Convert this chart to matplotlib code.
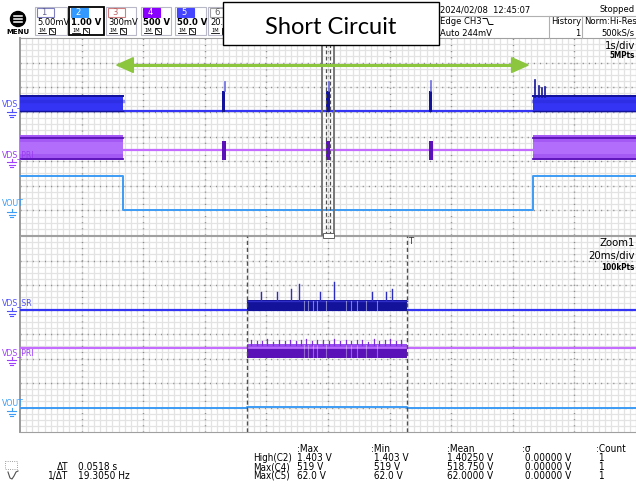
import matplotlib
matplotlib.use("Agg")
import matplotlib.pyplot as plt
from matplotlib import font_manager as fm
from matplotlib.patches import Rectangle, Polygon, Circle

# ---------------- data ----------------
# Main window: 1 s/div, time in seconds; vertical levels in divisions
main_xlim = [-5.0, 5.0]
sr_base_main = 1.03
sr_bands_main = [(-5.0, -3.33, 1.0, 1.68), (3.33, 5.0, 1.0, 1.68)]   # t0, t1, low, high
sr_spike_t_main = [-1.69, 0.0, 1.67]
sr_spike_mid_main = [1.85, 1.85, 1.85]
sr_spike_top_main = [2.21, 2.20, 2.25]
sr_start_spike_t = [3.36, 3.42, 3.48, 3.53]
sr_start_spike_top = [2.29, 2.05, 1.98, 2.02]

pri_base_main = -0.55
pri_bands_main = [(-5.0, -3.33, -0.96, 0.06), (3.33, 5.0, -0.96, 0.06)]
pri_burst_t_main = [-1.69, 0.0, 1.67]
pri_burst_low_main = [-0.96, -0.96, -0.96]
pri_burst_high_main = [-0.19, -0.19, -0.19]

vout_t_main = [-5.0, -3.33, -3.33, 3.33, 3.33, 5.0]
vout_v_main = [-1.61, -1.61, -2.99, -2.99, -1.61, -1.61]

zoom_window = [-0.1, 0.1]              # 20 ms/div zoom window, seconds
cursor_t = [-0.0263, 0.0255]           # dT = 0.0518 s
arrow_t = [-3.43, 3.25]
arrow_level = 2.9

# Zoom window: 20 ms/div
sr_base_zoom = 0.98
sr_band_zoom = (-0.0263, 0.0255, 0.98, 1.39)
sr_spike_t_zoom = [-0.0218, -0.0164, -0.0120, -0.0094, -0.0026, 0.0018, 0.0144, 0.0188, 0.0208]
sr_spike_top_zoom = [1.73, 1.73, 1.82, 2.03, 1.73, 2.13, 1.71, 1.71, 1.84]

pri_base_zoom = -0.57
pri_band_zoom = (-0.0263, 0.0255, -0.98, -0.57, -0.40)   # t0, t1, low, mid, high
pri_spike_t_zoom = [-0.0250, -0.0232, -0.0215, -0.0198, -0.0180, -0.0160, -0.0141, -0.0124,
                    -0.0105, -0.0088, -0.0070, -0.0052, -0.0035, -0.0015, 0.0003, 0.0021,
                    0.0040, 0.0058, 0.0075, 0.0093, 0.0112, 0.0130, 0.0148, 0.0166,
                    0.0184, 0.0202, 0.0220, 0.0238]
pri_spike_top_zoom = [-0.24, -0.30, -0.27, -0.22, -0.31, -0.26, -0.28, -0.23, -0.30, -0.25,
                      -0.21, -0.29, -0.26, -0.24, -0.30, -0.22, -0.27, -0.25, -0.29, -0.23,
                      -0.26, -0.31, -0.22, -0.28, -0.24, -0.20, -0.27, -0.25]
gap_t_zoom = [-0.0078, -0.0065, -0.0049, -0.0036, -0.0006, 0.0058, 0.0075, 0.0094, 0.0123, 0.0159]

vout_t_zoom = [-0.1, -0.0263, -0.0263, 0.0255, 0.0255, 0.1]
vout_v_zoom = [-3.03, -3.03, -2.99, -2.99, -3.03, -3.03]

channel_numbers = ["1", "2", "3", "4", "5", "6"]
channel_scales = ["5.00mV", "1.00 V", "300mV", "500 V", "50.0 V", "20."]

meas_headers = [":Max", ":Min", ":Mean", ":\u03c3", ":Count"]
meas_rows = ["High(C2)", "Max(C4)", "Max(C5)"]
meas_values = [["1.403 V", " 1.403 V", "1.40250 V", " 0.00000 V", " 1"],
               ["519 V", " 519 V", "518.750 V", " 0.00000 V", " 1"],
               ["62.0 V", " 62.0 V", "62.0000 V", " 0.00000 V", " 1"]]

# ---------------- fonts ----------------
_fonts = fm.fontManager.ttflist
_names = {f.name for f in _fonts}
if "Liberation Sans Narrow" in _names:
    SFAM, SSTR, SSC = ["Liberation Sans Narrow", "DejaVu Sans"], "normal", 1.0
elif any(f.name == "DejaVu Sans" and f.stretch == "condensed" for f in _fonts):
    SFAM, SSTR, SSC = ["DejaVu Sans"], "condensed", 0.9
else:
    SFAM, SSTR, SSC = ["DejaVu Sans Mono"], "normal", 0.82


def sfont(size, bold=False):
    return dict(family=SFAM, fontstretch=SSTR, fontsize=size * SSC,
                fontweight="bold" if bold else "normal")


# ---------------- styling ----------------
C_SR = "#3434f4"
C_SR_DARK = "#12129a"
C_PRI = "#c46cff"
C_PRI_BAND = "#a458f4"
C_PRI_DARK = "#5a12b8"
C_VOUT = "#3d9cf5"
C_GREEN = "#8cc63f"

W, H = 636, 487
fig = plt.figure(figsize=(W / 100, H / 100), dpi=100)
fig.patch.set_facecolor("white")


def fax(x0, y0, x1, y1):
    return [x0 / W, 1 - y1 / H, (x1 - x0) / W, (y1 - y0) / H]


ax_top = fig.add_axes(fax(20, 38, 636, 235))
ax_zoom = fig.add_axes(fax(20, 236, 636, 432))
ov = fig.add_axes([0, 0, 1, 1], zorder=10)
ov.set_xlim(0, W)
ov.set_ylim(H, 0)
ov.axis("off")
ov.patch.set_visible(False)


def setup_grid(ax, xlim):
    ax.set_xlim(*xlim)
    ax.set_ylim(-4, 4)
    div = (xlim[1] - xlim[0]) / 10.0
    for k in range(1, 100):
        ax.axvline(xlim[0] + k * div / 10, color="#e3e3e3", lw=0.9, zorder=0)
    for k in range(1, 32):
        ax.axhline(-4 + k * 0.25, color="#e3e3e3", lw=0.9, zorder=0)
    for k in range(1, 10):
        ax.axvline(xlim[0] + k * div, color="#8c8c8c", lw=1.0, ls=(0, (0.8, 3.6)), zorder=0.5)
    for k in range(1, 8):
        ax.axhline(-4 + k, color="#8c8c8c", lw=1.0, ls=(0, (0.8, 3.6)), zorder=0.5)
    ax.set_xticks([])
    ax.set_yticks([])
    for s in ax.spines.values():
        s.set_color("#a0a0a0")
        s.set_linewidth(0.8)
    ax.spines["left"].set_color("#9a9a9a")
    ax.spines["left"].set_linewidth(1.4)
    ax.set_facecolor("white")


setup_grid(ax_top, main_xlim)
setup_grid(ax_zoom, zoom_window)

# ---------------- main window traces ----------------
ax = ax_top
# channel labels drawn behind the traces (the bands cover part of them)
ax.text(2, 104, "VDS_SR", color="#5050ff", va="center", transform=ov.transData, clip_on=False,
        zorder=3.5, **sfont(7))
ax.text(2, 155, "VDS_PRI", color="#9a3cf0", va="center", transform=ov.transData, clip_on=False,
        zorder=4.6, **sfont(7))
ax.plot(main_xlim, [sr_base_main] * 2, color=C_SR, lw=1.6, zorder=3)
for t0, t1, lo, hi in sr_bands_main:
    ax.fill_between([t0, t1], lo, hi, color=C_SR, zorder=4, lw=0)
    ax.plot([t0, t1], [hi - 0.05] * 2, color=C_SR_DARK, lw=1.4, zorder=5)
    ax.plot([t0, t1], [lo + 0.04] * 2, color=C_SR_DARK, lw=1.0, zorder=5)
    ax.plot([t0, t1], [(lo + hi) / 2 + 0.1] * 2, color="#2a2ad8", lw=2.5, zorder=5, alpha=0.5)
for t, m, top in zip(sr_spike_t_main, sr_spike_mid_main, sr_spike_top_main):
    ax.fill_between([t - 0.025, t + 0.025], sr_base_main - 0.05, m, color=C_SR_DARK, zorder=5, lw=0)
    ax.plot([t + 0.01, t + 0.01], [m, top], color="#6a6ae0", lw=1.2, zorder=5)
for t, top in zip(sr_start_spike_t, sr_start_spike_top):
    ax.plot([t, t], [1.6, top], color=C_SR_DARK, lw=1.2, zorder=5)

ax.plot(main_xlim, [pri_base_main] * 2, color=C_PRI, lw=1.6, zorder=3)
for t0, t1, lo, hi in pri_bands_main:
    ax.fill_between([t0, t1], lo, hi, color=C_PRI_BAND, zorder=4, lw=0)
    ax.fill_between([t0, t1], lo + 0.25, hi - 0.3, color="#b878ff", zorder=4, lw=0, alpha=0.7)
    ax.plot([t0, t1], [hi - 0.12] * 2, color=C_PRI_DARK, lw=1.3, zorder=4.5)
    ax.plot([t0, t1], [lo + 0.06] * 2, color=C_PRI_DARK, lw=1.3, zorder=4.5)
for t, lo, hi in zip(pri_burst_t_main, pri_burst_low_main, pri_burst_high_main):
    ax.fill_between([t - 0.03, t + 0.03], lo, hi, color=C_PRI_DARK, zorder=5, lw=0)

ax.plot(vout_t_main, vout_v_main, color=C_VOUT, lw=1.4, zorder=3)

# zoom window indicator and cursors
ax.add_patch(Rectangle((zoom_window[0], -4), zoom_window[1] - zoom_window[0], 8,
                       fill=False, ec="#707070", lw=1.3, zorder=6, clip_on=False))
for c in cursor_t:
    ax.axvline(c, color="#505050", lw=0.9, ls=(0, (3, 2)), zorder=6)

# green arrow
ax.plot([arrow_t[0] + 0.25, arrow_t[1] - 0.25], [arrow_level] * 2, color=C_GREEN, lw=2.2, zorder=7)
ax.add_patch(Polygon([[arrow_t[0], arrow_level], [arrow_t[0] + 0.27, arrow_level + 0.3],
                      [arrow_t[0] + 0.27, arrow_level - 0.3]], closed=True, color=C_GREEN, zorder=7))
ax.add_patch(Polygon([[arrow_t[1], arrow_level], [arrow_t[1] - 0.27, arrow_level + 0.3],
                      [arrow_t[1] - 0.27, arrow_level - 0.3]], closed=True, color=C_GREEN, zorder=7))

# ---------------- zoom window traces ----------------
ax = ax_zoom
t0, t1, lo, hi = sr_band_zoom
ax.plot(zoom_window, [sr_base_zoom] * 2, color=C_SR, lw=1.6, zorder=3)
ax.fill_between([t0, t1], lo - 0.03, hi, color=C_SR_DARK, zorder=4, lw=0)
ax.plot([t0, t1], [hi - 0.03] * 2, color="#3030c8", lw=1.0, zorder=5)
for t, top in zip(sr_spike_t_zoom, sr_spike_top_zoom):
    ax.plot([t, t], [hi, top], color="#2c2cc0", lw=1.0, zorder=5)

t0, t1, lo, mid, hi = pri_band_zoom
ax.plot(zoom_window, [pri_base_zoom] * 2, color=C_PRI, lw=1.6, zorder=3)
ax.fill_between([t0, t1], mid, hi, color="#9a4cf0", zorder=4, lw=0)
ax.fill_between([t0, t1], lo, mid, color=C_PRI_DARK, zorder=4, lw=0)
ax.plot([t0, t1], [mid] * 2, color="#c070ff", lw=1.2, zorder=5)
for t, top in zip(pri_spike_t_zoom, pri_spike_top_zoom):
    ax.plot([t, t], [hi - 0.05, top], color="#7a30d8", lw=0.9, zorder=5)
for t in gap_t_zoom:
    ax.plot([t, t], [sr_band_zoom[2], sr_band_zoom[3] - 0.05], color="#ffffff", lw=0.8, alpha=0.45, zorder=6)
    ax.plot([t, t], [lo, hi - 0.05], color="#ffffff", lw=0.8, alpha=0.35, zorder=6)

ax.plot(vout_t_zoom, vout_v_zoom, color=C_VOUT, lw=1.4, zorder=3)
for c in cursor_t:
    ax.axvline(c, color="#505050", lw=1.0, ls=(0, (3, 2)), zorder=7)


# ---------------- overlay: labels, header, measurement table ----------------
def ground(x, y, color):
    ov.plot([x + 4.5, x + 4.5], [y - 3, y], color=color, lw=0.8)
    ov.plot([x, x + 9], [y, y], color=color, lw=0.8)
    ov.plot([x + 1.5, x + 7.5], [y + 2.5, y + 2.5], color=color, lw=0.8)
    ov.plot([x + 3, x + 6], [y + 5, y + 5], color=color, lw=0.8)


def lbl(x, y, s, color):
    ov.text(x, y, s, color=color, va="center", **sfont(7))


ground(7, 112, "#5050ff")
ground(7, 162, "#a040ff")
lbl(2, 204, "VOUT", "#3d9cf5")
ground(7, 212, "#3d9cf5")
lbl(2, 303, "VDS_SR", "#5050ff")
ground(7, 311, "#5050ff")
lbl(2, 353, "VDS_PRI", "#a040ff")
ground(7, 360, "#a040ff")
lbl(2, 403, "VOUT", "#3d9cf5")
ground(7, 411, "#3d9cf5")

# header: menu button
ov.add_patch(Circle((18, 19), 7.5, color="black"))
for dy in (-3, 0, 3):
    ov.plot([14, 22], [19 + dy, 19 + dy], color="white", lw=1.1)
ov.text(18, 32, "MENU", fontsize=5, fontweight="bold", ha="center", va="center")

box_x = [35, 69, 106, 141, 175, 208]
box_w = [32, 35, 30, 30, 31, 32]
tab_fill = ["white", "#3399ff", "white", "#8a00ff", "#4646ff", "white"]
tab_edge = ["#8080c0", "#3399ff", "#d08080", "#8a00ff", "#4646ff", "#a0a0a0"]
tab_text = ["#606090", "white", "#c06060", "white", "white", "#606060"]
for i, (x0, w) in enumerate(zip(box_x, box_w)):
    sel = i == 1
    ov.add_patch(Rectangle((x0, 7), w, 28, fill=False, ec="black" if sel else "#b8b8c8",
                           lw=1.3 if sel else 0.8))
    ov.add_patch(Rectangle((x0 + 2, 8), 17, 9, fc=tab_fill[i], ec=tab_edge[i], lw=0.8))
    ov.text(x0 + 9, 12.5, channel_numbers[i], color=tab_text[i], ha="center", va="center", **sfont(7.5))
    ov.text(x0 + 2, 22.5, channel_scales[i], ha="left", va="center", **sfont(7.5, bold=i in (1, 3, 4)))
    ov.text(x0 + 3, 30, "1M", ha="left", va="center", **sfont(4.5))
    ov.plot([x0 + 3, x0 + 11], [33, 33], color="black", lw=0.6)
    ov.add_patch(Rectangle((x0 + 14, 27.5), 6, 6, fill=False, ec="black", lw=0.6))
    ov.plot([x0 + 15, x0 + 19], [28.5, 32.5], color="black", lw=0.6)

# header right
ov.text(440, 10, "2024/02/08  12:45:07", va="center", **sfont(7.5))
ov.text(635, 10, "Stopped", va="center", ha="right", **sfont(7.5))
ov.plot([438, 636], [15.5, 15.5], color="#b0b0b0", lw=0.8)
ov.plot([549, 549], [15.5, 38], color="#b0b0b0", lw=0.8)
ov.plot([582, 582], [15.5, 38], color="#b0b0b0", lw=0.8)
ov.text(440, 21.7, "Edge CH3", va="center", **sfont(7.5))
ov.plot([483, 487, 489, 493], [18.5, 18.5, 24.5, 24.5], color="black", lw=0.7)
ov.text(440, 33, "Auto 244mV", va="center", **sfont(7.5))
ov.text(551, 21.7, "History", va="center", **sfont(7.5))
ov.text(580, 33, "1", va="center", ha="right", **sfont(7.5))
ov.text(584, 21.7, "Norm:Hi-Res", va="center", **sfont(7.5))
ov.text(635, 33, "500kS/s", va="center", ha="right", **sfont(7.5))

# Short Circuit annotation box
ov.add_patch(Rectangle((223, 2), 216, 43, fc="white", ec="black", lw=1.0, zorder=20))
ov.text(331, 27, "Short Circuit", fontsize=17, family=["Lato", "DejaVu Sans"], ha="center",
        va="center", zorder=21)

# timebase texts
ov.text(635, 46, "1s/div", ha="right", va="center", **sfont(9))
ov.text(635, 55.5, "5MPts", ha="right", va="center", **sfont(6.5, bold=True))
ov.text(635, 243, "Zoom1", ha="right", va="center", **sfont(9))
ov.text(635, 255.5, "20ms/div", ha="right", va="center", **sfont(9))
ov.text(635, 267, "100kPts", ha="right", va="center", **sfont(6.5, bold=True))

# trigger marker in zoom
ov.text(408, 241, "T", ha="left", va="center", color="#303030", **sfont(7.5))
ov.add_patch(Rectangle((323, 233), 11, 5, fc="white", ec="#606060", lw=0.7))

# bottom measurement area
ov.add_patch(Rectangle((5, 461), 12, 8, fill=False, ec="#808080", lw=0.6, ls=":"))
ov.plot([8, 10, 12, 14, 16, 18], [472, 478, 479, 476, 472, 471], color="#505050", lw=0.8)
ov.text(68, 467, "\u0394T", ha="right", va="center", **sfont(8))
ov.text(78, 467, "0.0518 s", ha="left", va="center", **sfont(8))
ov.text(68, 476, "1/\u0394T", ha="right", va="center", **sfont(8))
ov.text(78, 476, "19.3050 Hz", ha="left", va="center", **sfont(8))

col_x = [297, 371, 447, 522, 596]
for x, h in zip(col_x, meas_headers):
    ov.text(x, 448.5, h, ha="left", va="center", **sfont(8))
for r, (name, vals) in enumerate(zip(meas_rows, meas_values)):
    y = 458 + r * 9
    ov.text(253, y, name, ha="left", va="center", **sfont(7.8))
    for x, v in zip(col_x, vals):
        ov.text(x, y, v, ha="left", va="center", **sfont(8))

fig.savefig("out.png", dpi=100, facecolor="white")
